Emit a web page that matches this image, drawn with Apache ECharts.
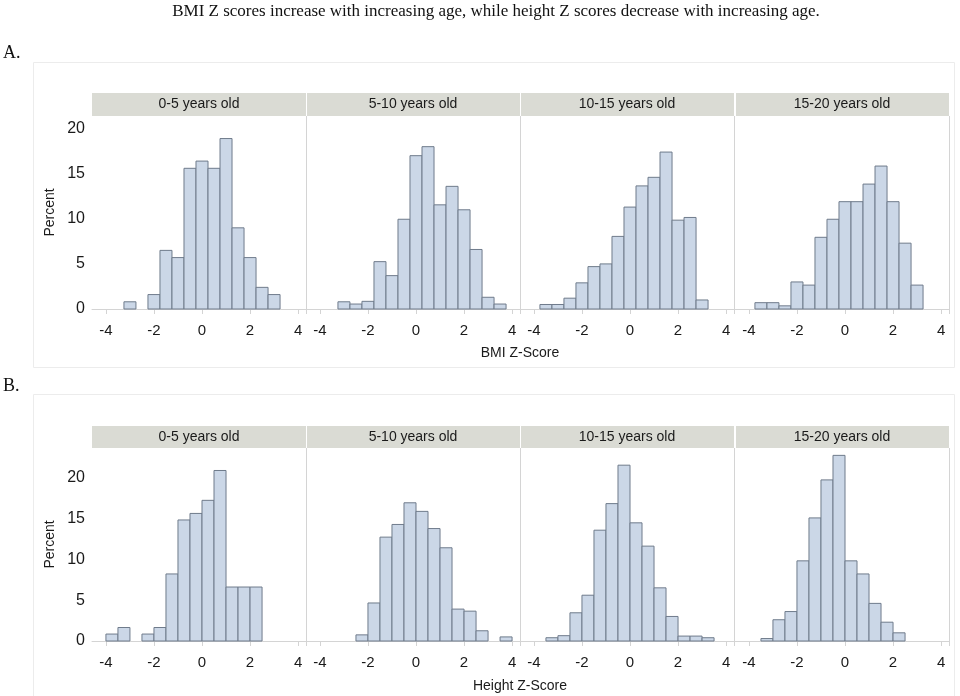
<!DOCTYPE html>
<html>
<head>
<meta charset="utf-8">
<script src="https://cdn.jsdelivr.net/npm/echarts@6/dist/echarts.min.js"></script>
<style>
  html, body { margin: 0; padding: 0; background: #fff; }
  #chart { width: 960px; height: 696px; }
</style>
</head>
<body>
<div id="chart"></div>
<script>
// age group labels for the strip headers
const ageGroups = ['0-5 years old', '5-10 years old', '10-15 years old', '15-20 years old']

// BMI histogram, bins of 0.5 centred on these values
const bmiCenters = [-3.5, -3, -2.5, -2, -1.5, -1, -0.5, 0, 0.5, 1, 1.5, 2, 2.5, 3, 3.5]
const bmi0to5   = [0, 0.8, 0, 1.6, 6.5, 5.7, 15.6, 16.4, 15.6, 18.9, 9.0, 5.7, 2.4, 1.6, 0]
const bmi5to10  = [0, 0.8, 0.55, 0.85, 5.25, 3.7, 9.95, 17.0, 18.0, 11.55, 13.6, 11.0, 6.6, 1.3, 0.55]
const bmi10to15 = [0.5, 0.5, 1.2, 2.9, 4.7, 5.0, 8.05, 11.3, 13.65, 14.6, 17.4, 9.85, 10.15, 1.0, 0]
const bmi15to20 = [0.7, 0.7, 0.35, 3.0, 2.65, 7.95, 9.95, 11.9, 11.9, 13.85, 15.85, 11.9, 7.3, 2.65, 0]

// height histogram, bins of 0.5 centred on these values
const heightCenters = [-3.75, -3.25, -2.75, -2.25, -1.75, -1.25, -0.75, -0.25, 0.25, 0.75, 1.25, 1.75, 2.25, 2.75, 3.25, 3.75]
const height0to5   = [0.85, 1.65, 0, 0.85, 1.65, 8.2, 14.8, 15.6, 17.2, 20.85, 6.6, 6.6, 6.6, 0, 0, 0]
const height5to10  = [0, 0, 0, 0.75, 4.65, 12.7, 14.25, 16.9, 15.85, 13.75, 11.4, 3.9, 3.65, 1.25, 0, 0.5]
const height10to15 = [0, 0.4, 0.65, 3.45, 5.6, 13.55, 16.8, 21.5, 14.45, 11.6, 6.5, 3.0, 0.6, 0.6, 0.4, 0]
const height15to20 = [0, 0.3, 2.6, 3.6, 9.8, 15.05, 19.7, 22.7, 9.8, 8.2, 4.6, 2.3, 1.0, 0, 0, 0]

const binWidth = 0.5
const xTicks = [-4, -2, 0, 2, 4]
const yTicks = [0, 5, 10, 15, 20]

const chart = echarts.init(document.getElementById('chart'))

const sans = 'Liberation Sans, Arial, sans-serif'
const serif = 'Liberation Serif, Times New Roman, serif'
const fillColor = '#cbd7e7'
const edgeColor = '#6f7b8b'
const lightLine = '#d4d4d4'

const panelLeft = [92, 306, 520, 735]
const panelWidth = 214
const rows = [
  { top: 116, height: 193, yMax: 21.4, stripTop: 93, centers: bmiCenters, sets: [bmi0to5, bmi5to10, bmi10to15, bmi15to20], xName: 'BMI Z-Score', xNameY: 346 },
  { top: 448, height: 193, yMax: 23.6, stripTop: 426, centers: heightCenters, sets: [height0to5, height5to10, height10to15, height15to20], xName: 'Height Z-Score', xNameY: 679 }
]

function toBins(centers, values){
  var res = []
  for(let i = 0; i < centers.length; i++){
    if(values[i] > 0)
      res.push([centers[i] - binWidth / 2, centers[i] + binWidth / 2, values[i]])
  }
  return res
}

function renderBin(params, api){
  let lo = api.coord([api.value(0), 0])
  let hi = api.coord([api.value(1), api.value(2)])
  return {
    type: 'rect',
    shape: { x: lo[0], y: hi[1], width: hi[0] - lo[0], height: lo[1] - hi[1] },
    style: { fill: fillColor, stroke: edgeColor, lineWidth: 1 }
  }
}

const grid = [], xAxis = [], yAxis = [], series = []
const graphic = []

// outer frames and panel labels
graphic.push({ type: 'rect', shape: { x: 33.5, y: 62.5, width: 921, height: 305 }, style: { fill: 'none', stroke: '#ececec', lineWidth: 1 } })
graphic.push({ type: 'rect', shape: { x: 33.5, y: 394.5, width: 921, height: 310 }, style: { fill: 'none', stroke: '#ececec', lineWidth: 1 } })
graphic.push({ type: 'text', x: 496, y: 3, style: { text: 'BMI Z scores increase with increasing age, while height Z scores decrease with increasing age.', font: '17px ' + serif, fill: '#111', textAlign: 'center' } })
graphic.push({ type: 'text', x: 3, y: 44, style: { text: 'A.', font: '18px ' + serif, fill: '#111' } })
graphic.push({ type: 'text', x: 3, y: 377, style: { text: 'B.', font: '18px ' + serif, fill: '#111' } })

rows.forEach(function(row, r){
  for(let i = 0; i < 4; i++){
    let idx = r * 4 + i
    grid.push({ left: panelLeft[i], top: row.top, width: panelWidth, height: row.height })
    xAxis.push({
      gridIndex: idx, type: 'value', min: -4.58, max: 4.33,
      axisLine: { show: true, lineStyle: { color: lightLine, width: 1 } },
      axisTick: { show: true, length: 5, customValues: xTicks, lineStyle: { color: lightLine } },
      axisLabel: { customValues: xTicks, color: '#1a1a1a', fontSize: 15, fontFamily: sans, margin: 14 },
      splitLine: { show: false }
    })
    yAxis.push({
      gridIndex: idx, type: 'value', min: 0, max: row.yMax,
      name: i === 0 ? 'Percent' : '', nameLocation: 'middle', nameGap: 35,
      nameTextStyle: { color: '#1a1a1a', fontSize: 14, fontFamily: sans },
      axisLine: { show: false }, axisTick: { show: false },
      axisLabel: { show: i === 0, customValues: yTicks, color: '#1a1a1a', fontSize: 16, fontFamily: sans, margin: 7 },
      splitLine: { show: false }
    })
    series.push({
      type: 'custom', xAxisIndex: idx, yAxisIndex: idx,
      renderItem: renderBin,
      encode: { x: [0, 1], y: 2 },
      data: toBins(row.centers, row.sets[i])
    })
    // strip header
    graphic.push({ type: 'rect', shape: { x: panelLeft[i] + (i ? 1 : 0), y: row.stripTop, width: panelWidth - (i ? 1 : 0), height: row.top - row.stripTop }, style: { fill: '#dadbd4' } })
    graphic.push({ type: 'text', x: panelLeft[i] + panelWidth / 2, y: row.stripTop + (row.top - row.stripTop) / 2, style: { text: ageGroups[i], font: '14px ' + sans, fill: '#1a1a1a', textAlign: 'center', textVerticalAlign: 'middle' } })
    // panel right border
    graphic.push({ type: 'line', shape: { x1: panelLeft[i] + panelWidth + 0.5, y1: row.top, x2: panelLeft[i] + panelWidth + 0.5, y2: row.top + row.height + 5 }, style: { stroke: lightLine, lineWidth: 1 } })
  }
  graphic.push({ type: 'text', x: 520, y: row.xNameY, style: { text: row.xName, font: '14px ' + sans, fill: '#1a1a1a', textAlign: 'center' } })
})

chart.setOption({
  animation: false,
  backgroundColor: '#fff',
  grid: grid,
  xAxis: xAxis,
  yAxis: yAxis,
  series: series,
  graphic: graphic
})
</script>
</body>
</html>
